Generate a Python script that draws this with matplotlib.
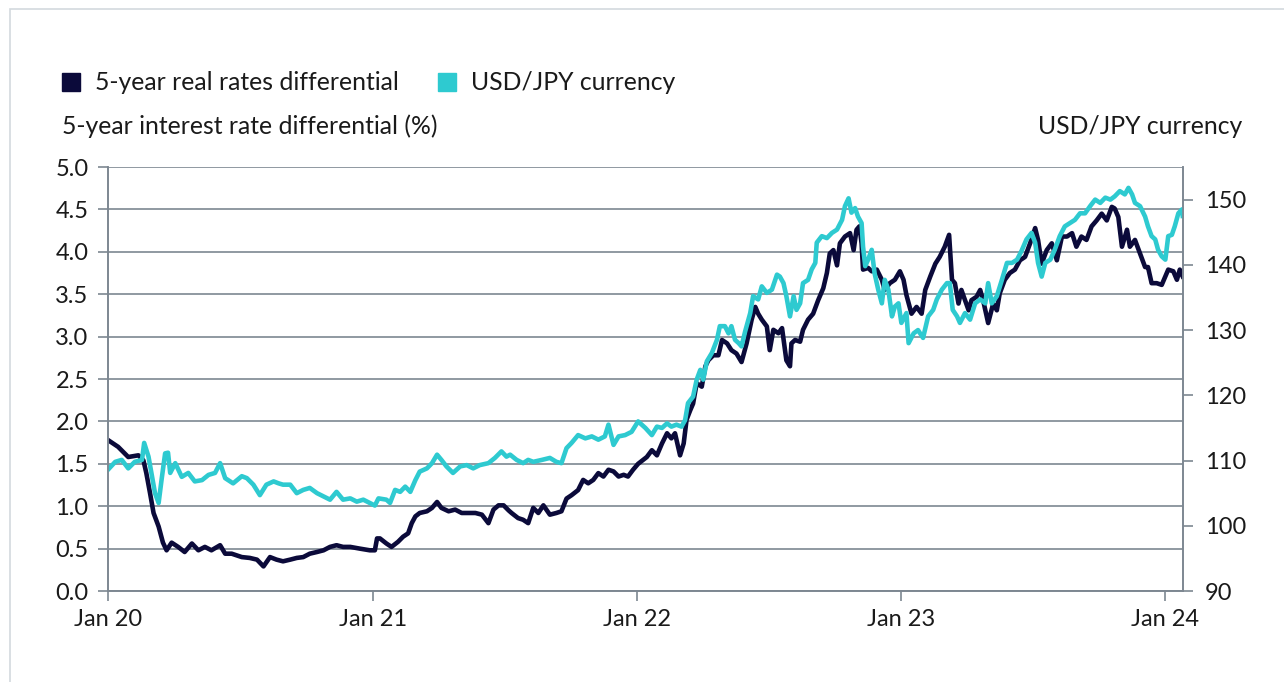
import numpy as np
import pandas as pd
import matplotlib
matplotlib.use('Agg')
import matplotlib.pyplot as plt
import matplotlib.dates as mdates
from matplotlib.patches import Rectangle

plt.rcParams['font.family'] = ['Lato', 'DejaVu Sans']

# 5-year real rates differential (%), days since 1 Jan 2020
rate_days = [0, 14, 28, 42, 49, 53, 58, 63, 70, 76, 81, 88, 97, 106, 116, 125, 134, 143, 155, 162,
             171, 185, 196, 206, 215, 224, 233, 242, 252, 261, 270, 279, 289, 298, 307, 316, 325,
             335, 348, 362, 369, 372, 376, 385, 392, 401, 408, 415, 420, 425, 431, 441, 448, 455,
             461, 471, 480, 489, 498, 508, 517, 526, 533, 540, 547, 554, 558, 567, 574, 581, 588,
             595, 602, 611, 620, 627, 634, 641, 650, 657, 664, 671, 678, 685, 692, 699, 706, 713,
             719, 726, 733, 745, 752, 759, 766, 773, 779, 784, 791, 796, 800, 805, 809, 814, 821,
             826, 830, 837, 844, 849, 856, 862, 869, 876, 883, 890, 895, 899, 904, 911, 915, 920,
             927, 932, 938, 943, 945, 950, 957, 961, 968, 975, 982, 989, 994, 998, 1003, 1008,
             1012, 1019, 1026, 1031, 1035, 1039, 1042, 1044, 1051, 1056, 1063, 1070, 1074, 1081,
             1088, 1095, 1100, 1104, 1111, 1118, 1125, 1130, 1137, 1144, 1150, 1157, 1163, 1167,
             1171, 1176, 1180, 1185, 1190, 1194, 1201, 1206, 1210, 1217, 1224, 1229, 1233, 1240,
             1247, 1254, 1261, 1268, 1275, 1282, 1286, 1291, 1298, 1305, 1312, 1319, 1326, 1333,
             1339, 1346, 1353, 1360, 1367, 1374, 1381, 1388, 1392, 1397, 1402, 1409, 1413, 1420,
             1427, 1434, 1438, 1443, 1450, 1457, 1462, 1466, 1473, 1478, 1482, 1486]
rate_vals = [1.78, 1.70, 1.58, 1.60, 1.54, 1.39, 1.16, 0.92, 0.76, 0.57, 0.48, 0.57, 0.52, 0.46, 0.56,
             0.48, 0.52, 0.48, 0.54, 0.44, 0.44, 0.40, 0.39, 0.37, 0.29, 0.40, 0.37, 0.35, 0.37,
             0.39, 0.40, 0.44, 0.46, 0.48, 0.52, 0.54, 0.52, 0.52, 0.50, 0.48, 0.48, 0.62, 0.62,
             0.56, 0.52, 0.58, 0.64, 0.68, 0.80, 0.88, 0.92, 0.94, 0.98, 1.05, 0.98, 0.94, 0.96,
             0.92, 0.92, 0.92, 0.90, 0.80, 0.96, 1.01, 1.01, 0.95, 0.92, 0.86, 0.84, 0.80, 0.98,
             0.92, 1.01, 0.90, 0.92, 0.94, 1.09, 1.13, 1.19, 1.31, 1.27, 1.31, 1.39, 1.35, 1.43,
             1.41, 1.35, 1.37, 1.35, 1.43, 1.50, 1.58, 1.66, 1.60, 1.74, 1.86, 1.80, 1.86, 1.60,
             1.74, 2.02, 2.13, 2.21, 2.45, 2.41, 2.65, 2.72, 2.78, 2.78, 2.96, 2.92, 2.84, 2.80,
             2.70, 2.92, 3.20, 3.35, 3.27, 3.20, 3.12, 2.84, 3.08, 3.04, 3.10, 2.72, 2.65, 2.92,
             2.96, 2.94, 3.08, 3.20, 3.27, 3.43, 3.57, 3.75, 3.98, 4.02, 3.84, 4.10, 4.18, 4.22,
             4.02, 4.26, 4.30, 4.10, 3.79, 3.81, 3.77, 3.79, 3.67, 3.55, 3.63, 3.67, 3.77, 3.67,
             3.49, 3.27, 3.35, 3.27, 3.55, 3.71, 3.86, 3.94, 4.06, 4.20, 3.67, 3.63, 3.39, 3.55,
             3.43, 3.31, 3.43, 3.47, 3.55, 3.43, 3.16, 3.39, 3.31, 3.51, 3.67, 3.75, 3.79, 3.90,
             3.94, 4.10, 4.28, 4.14, 3.86, 4.02, 4.10, 3.90, 4.18, 4.18, 4.22, 4.06, 4.18, 4.14,
             4.30, 4.37, 4.45, 4.37, 4.53, 4.51, 4.41, 4.06, 4.26, 4.06, 4.14, 3.98, 3.82, 3.82,
             3.63, 3.63, 3.61, 3.71, 3.79, 3.77, 3.67, 3.79, 3.71]

# USD/JPY currency, days since 1 Jan 2020
fx_days = [0, 10, 19, 28, 37, 47, 50, 56, 60, 65, 70, 74, 79, 83, 86, 93, 102, 111, 120, 130, 139,
           148, 155, 162, 173, 185, 192, 201, 210, 219, 229, 236, 242, 252, 261, 270, 279, 289,
           298, 307, 316, 325, 335, 344, 353, 362, 369, 374, 385, 390, 397, 404, 411, 418, 425,
           431, 441, 448, 455, 461, 468, 477, 487, 496, 505, 514, 526, 535, 544, 551, 556, 565,
           574, 581, 588, 600, 611, 620, 627, 634, 641, 650, 660, 669, 678, 687, 692, 699, 706,
           715, 724, 733, 743, 752, 759, 766, 773, 779, 786, 793, 798, 802, 809, 814, 819, 823,
           828, 835, 842, 846, 853, 858, 862, 867, 872, 876, 881, 888, 892, 899, 904, 911, 918,
           925, 929, 934, 938, 943, 948, 952, 957, 961, 968, 973, 978, 980, 987, 994, 1001, 1008,
           1015, 1019, 1024, 1028, 1033, 1037, 1042, 1044, 1047, 1051, 1056, 1060, 1065, 1070,
           1074, 1079, 1084, 1088, 1093, 1097, 1104, 1107, 1114, 1120, 1127, 1134, 1141, 1146,
           1153, 1160, 1164, 1168, 1174, 1178, 1185, 1192, 1199, 1206, 1213, 1217, 1222, 1229,
           1236, 1243, 1250, 1257, 1263, 1270, 1277, 1282, 1286, 1291, 1296, 1303, 1309, 1316,
           1323, 1330, 1337, 1344, 1351, 1358, 1365, 1372, 1379, 1386, 1392, 1399, 1406, 1411,
           1416, 1420, 1427, 1434, 1438, 1443, 1448, 1452, 1457, 1462, 1466, 1471, 1475, 1480,
           1485, 1486]
fx_vals = [108.6, 109.8, 110.1, 108.8, 109.8, 110.1, 112.7, 110.6, 108.1, 105.0, 103.5, 107.0, 111.1,
           111.2, 108.1, 109.6, 107.5, 108.1, 106.8, 107.0, 107.8, 108.1, 109.6, 107.3, 106.5,
           107.6, 107.3, 106.3, 104.7, 106.3, 106.8, 106.5, 106.3, 106.3, 105.0, 105.5, 105.8,
           105.0, 104.5, 104.0, 105.2, 104.0, 104.2, 103.7, 104.0, 103.5, 103.1, 104.2, 104.0,
           103.5, 105.5, 105.2, 106.0, 105.2, 107.0, 108.3, 108.8, 109.6, 110.9, 110.1, 109.1,
           108.1, 109.1, 109.3, 108.8, 109.3, 109.6, 110.4, 111.4, 110.6, 110.9, 110.1, 109.6,
           110.1, 109.8, 110.1, 110.4, 109.8, 109.6, 111.9, 112.7, 113.9, 113.4, 113.7, 113.2,
           113.7, 115.5, 112.4, 113.7, 113.9, 114.4, 116.0, 115.0, 113.9, 115.2, 115.0, 115.7,
           115.2, 115.5, 115.2, 116.2, 118.8, 119.8, 122.4, 123.9, 122.4, 125.2, 126.5, 128.5,
           130.6, 130.6, 129.5, 130.6, 128.5, 128.0, 127.5, 129.8, 132.6, 135.2, 134.7, 136.7,
           135.7, 136.2, 138.5, 138.2, 137.2, 135.2, 132.1, 135.2, 133.1, 134.1, 137.2, 137.7,
           139.3, 140.3, 143.4, 144.4, 144.1, 144.9, 145.4, 146.9, 149.0, 150.2, 148.0, 148.7,
           147.4, 146.4, 142.8, 139.8, 140.8, 142.3, 138.7, 136.2, 134.1, 137.7, 136.2, 132.1,
           133.6, 134.1, 131.1, 132.6, 128.0, 129.5, 130.0, 128.8, 132.1, 133.1, 134.7, 136.2,
           137.2, 137.2, 133.1, 132.1, 131.1, 132.6, 131.6, 134.1, 134.7, 134.1, 137.2, 134.1,
           135.2, 137.7, 140.3, 140.3, 140.8, 142.1, 143.9, 144.9, 143.4, 140.3, 138.2, 140.3,
           140.8, 142.3, 144.4, 145.9, 146.4, 146.9, 147.9, 147.9, 149.0, 150.0, 149.5, 150.3,
           150.0, 150.5, 151.3, 150.8, 151.8, 150.8, 149.5, 149.0, 147.4, 145.9, 144.4, 143.9,
           142.3, 141.3, 140.8, 144.4, 144.6, 145.9, 147.9, 148.5, 147.5]

start = pd.Timestamp('2020-01-01')
rate_dates = start + pd.to_timedelta(rate_days, unit='D')
fx_dates = start + pd.to_timedelta(fx_days, unit='D')

navy = '#0b0a3a'
teal = '#2ecad0'
grid = '#7d8791'
txt = '#1a1a1a'

fig = plt.figure(figsize=(12.84, 6.82), dpi=100)
ax = fig.add_axes([108 / 1284, 1 - 591 / 682, (1182.7 - 108) / 1284, (591 - 167) / 682])
ax2 = ax.twinx()

ax.plot(rate_dates, rate_vals, color=navy, lw=3.3, solid_joinstyle='round')
ax2.plot(fx_dates, fx_vals, color=teal, lw=3.3, solid_joinstyle='round')

ax.set_xlim(start, pd.Timestamp('2024-01-26'))
ax.set_ylim(0, 5.0)
ax2.set_ylim(90, 155)
ax.set_yticks(np.arange(0, 5.01, 0.5))
ax.set_yticklabels([f'{v:.1f}' for v in np.arange(0, 5.01, 0.5)])
ax2.set_yticks(range(90, 151, 10))
ax.xaxis.set_major_locator(mdates.YearLocator())
ax.xaxis.set_major_formatter(mdates.DateFormatter('Jan %y'))

ax.grid(axis='y', color=grid, lw=1.2)
ax.set_axisbelow(True)
for a in (ax, ax2):
    a.spines['top'].set_visible(False)
    for s in ('left', 'right', 'bottom'):
        a.spines[s].set_color(grid)
        a.spines[s].set_linewidth(1.2)
ax.tick_params(axis='y', length=7, width=1.2, color=grid, labelsize=17, pad=7, labelcolor=txt)
ax.tick_params(axis='x', length=7, width=1.2, color=grid, labelsize=17, pad=6, labelcolor=txt)
ax2.tick_params(axis='y', length=7, width=1.2, color=grid, labelsize=17, pad=9, labelcolor=txt)

# titles and legend
fig.text(62 / 1284, 1 - 126 / 682, '5-year interest rate differential (%)', fontsize=17.8,
         color=txt, va='center', ha='left')
fig.text(1242 / 1284, 1 - 126 / 682, 'USD/JPY currency', fontsize=17.8,
         color=txt, va='center', ha='right')
items = [('5-year real rates differential', navy, 62), ('USD/JPY currency', teal, 438)]
for label, col, x0 in items:
    fig.patches.append(Rectangle((x0 / 1284, 1 - 91 / 682), 18 / 1284, 18 / 682,
                                 transform=fig.transFigure, color=col))
    fig.text((x0 + 33) / 1284, 1 - 82 / 682, label, fontsize=17.8, color=txt,
             va='center', ha='left')

# light frame
fig.patches.append(Rectangle((10 / 1284, -0.1), 1.2, 1.1 - 9 / 682, transform=fig.transFigure,
                             fill=False, edgecolor='#d3d9de', lw=1.2))

fig.savefig('out.png', dpi=100)
